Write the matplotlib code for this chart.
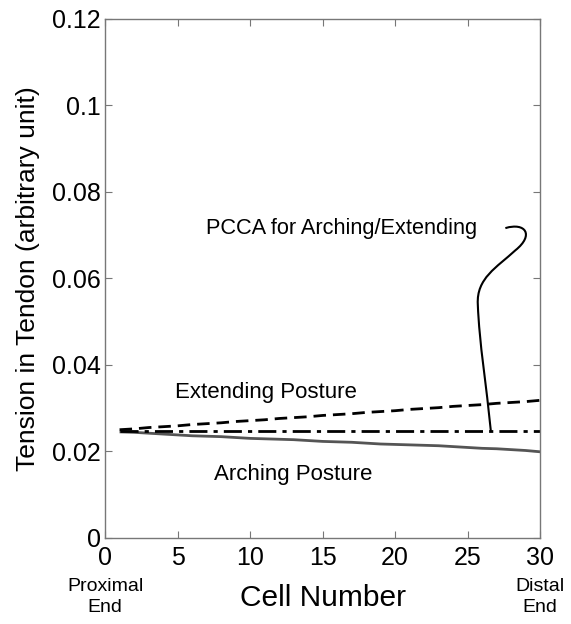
import matplotlib
matplotlib.use("Agg")
import matplotlib.pyplot as plt
from matplotlib.path import Path
from matplotlib.patches import PathPatch
import numpy as np

plt.rcParams['font.family'] = ['Liberation Sans', 'DejaVu Sans']

cells = list(range(1, 31))
pcca = [0.0247] * 30
extending = [0.0250, 0.0252, 0.0255, 0.0257, 0.0259, 0.0262, 0.0264, 0.0266, 0.0269, 0.0271,
             0.0273, 0.0276, 0.0278, 0.0280, 0.0283, 0.0285, 0.0287, 0.0290, 0.0292, 0.0294,
             0.0297, 0.0299, 0.0301, 0.0304, 0.0306, 0.0308, 0.0311, 0.0313, 0.0315, 0.0318]
arching = [0.0245, 0.0244, 0.0242, 0.0240, 0.0238, 0.0236, 0.0235, 0.0234, 0.0232, 0.0230,
           0.0229, 0.0228, 0.0227, 0.0225, 0.0223, 0.0222, 0.0221, 0.0219, 0.0217, 0.0216,
           0.0215, 0.0214, 0.0213, 0.0211, 0.0209, 0.0207, 0.0206, 0.0204, 0.0202, 0.0199]

xticks = [0, 5, 10, 15, 20, 25, 30]
yticks = [0, 0.02, 0.04, 0.06, 0.08, 0.1, 0.12]
yticklabels = ['0', '0.02', '0.04', '0.06', '0.08', '0.1', '0.12']

fig = plt.figure(figsize=(5.71, 6.24), dpi=100)
ax = fig.add_axes([0.184, 0.138, 0.762, 0.832])

ax.plot(cells, arching, color='#555555', lw=2.0, solid_capstyle='butt')
ax.plot(cells, extending, color='black', lw=2.0, dashes=(4.5, 2.5))
ax.plot(cells, pcca, color='black', lw=2.0, dashes=(6.5, 2.2, 1.5, 2.2))

# leader curve for annotation
verts = [(27.6, 0.0716),
         (29.0, 0.0730), (29.6, 0.0700), (28.3, 0.0665),
         (27.0, 0.0625), (25.6, 0.0600), (25.7, 0.0540),
         (25.8, 0.0450), (26.3, 0.0350), (26.6, 0.0247)]
codes = [Path.MOVETO] + [Path.CURVE4] * 9
ax.add_patch(PathPatch(Path(verts, codes), facecolor='none', edgecolor='black', lw=1.5))

ax.text(16.3, 0.0703, 'PCCA for Arching/Extending', fontsize=15.7, ha='center', va='baseline')
ax.text(11.1, 0.0324, 'Extending Posture', fontsize=16, ha='center', va='baseline')
ax.text(13.0, 0.0134, 'Arching Posture', fontsize=16, ha='center', va='baseline')

ax.set_xlim(0, 30)
ax.set_ylim(0, 0.12)
ax.set_xticks(xticks)
ax.set_xticklabels([str(t) for t in xticks])
ax.set_yticks(yticks)
ax.set_yticklabels(yticklabels)
ax.tick_params(direction='in', length=5, width=0.8, colors='#777777', labelcolor='black',
               labelsize=18, top=True, right=True)
ax.tick_params(axis='x', pad=6)
ax.tick_params(axis='y', pad=3)
for s in ax.spines.values():
    s.set_color('#777777')
    s.set_linewidth(1.0)

ax.set_ylabel('Tension in Tendon (arbitrary unit)', fontsize=19, labelpad=9)
ax.set_xlabel('Cell Number', fontsize=21.5, labelpad=10)

ax.text(0, -0.0092, 'Proximal\nEnd', fontsize=14, ha='center', va='top',
        linespacing=1.3, clip_on=False)
ax.text(30, -0.0092, 'Distal\nEnd', fontsize=14, ha='center', va='top',
        linespacing=1.3, clip_on=False)

fig.savefig('out.png', dpi=100, facecolor='white')
